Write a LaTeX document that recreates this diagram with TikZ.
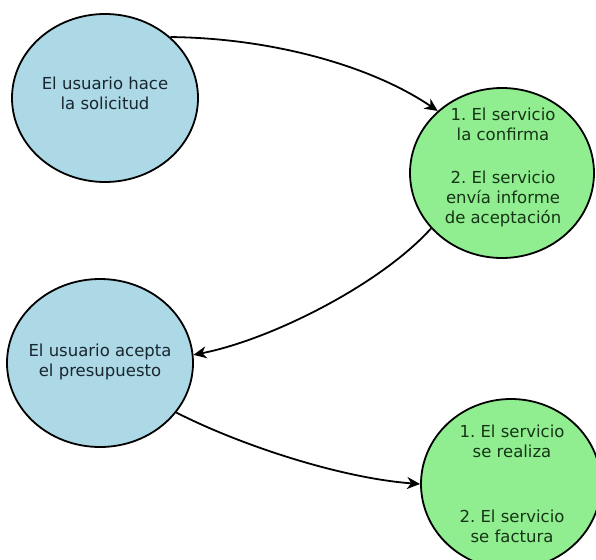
\documentclass[tikz,border=0pt]{standalone}
\usepackage{fontspec}
\setmainfont{DejaVu Sans}
\frenchspacing
\usetikzlibrary{shapes.geometric,arrows.meta}
\definecolor{nodeblue}{RGB}{173,216,230}
\definecolor{nodegreen}{RGB}{144,238,144}
\definecolor{txtblue}{RGB}{24,38,48}
\definecolor{txtgreen}{RGB}{22,52,22}
\tikzset{
  bubble/.style={ellipse, draw=black, line width=1.8pt, inner sep=0pt},
  bluebubble/.style={bubble, fill=nodeblue},
  greenbubble/.style={bubble, fill=nodegreen},
  label/.style={align=center, inner sep=0pt, font=\fontsize{16.5}{20}\selectfont},
  flow/.style={line width=1.8pt, -{Stealth[length=13pt,width=12pt,inset=4pt]}}
}
\begin{document}
\begin{tikzpicture}[x=1pt,y=-1pt]
\useasboundingbox (0,0) rectangle (596,559);
\clip (0,0) rectangle (596,559);
\node[bluebubble, minimum width=186pt, minimum height=168pt] (e1) at (105,98) {};
\node[greenbubble, minimum width=184pt, minimum height=170pt] (e2) at (502,173) {};
\node[bluebubble, minimum width=186pt, minimum height=168pt] (e3) at (100,363) {};
\node[greenbubble, minimum width=180pt, minimum height=170pt] (e4) at (511,484) {};

\node[label, text=txtblue] (t1) at (105,93) {El usuario hace\\la solicitud};
\node[label, text=txtgreen] (t2) at (503,167) {1. El servicio\\la confirma\\[23pt]2. El servicio\\envía informe\\de aceptación};
\node[label, text=txtblue] (t3) at (100,362) {El usuario acepta\\el presupuesto};
\node[label, text=txtgreen] (t4) at (512,484) {1. El servicio\\se realiza\\[45pt]2. El servicio\\se factura};

\draw[flow] (e1.43) .. controls (270,38) and (370,65) .. (e2.136);
\draw[flow] (e2.218) .. controls (380,285) and (270,340) .. (e3.5);
\draw[flow] (e3.-33) .. controls (240,445) and (340,478) .. (e4.west);
\end{tikzpicture}
\end{document}
